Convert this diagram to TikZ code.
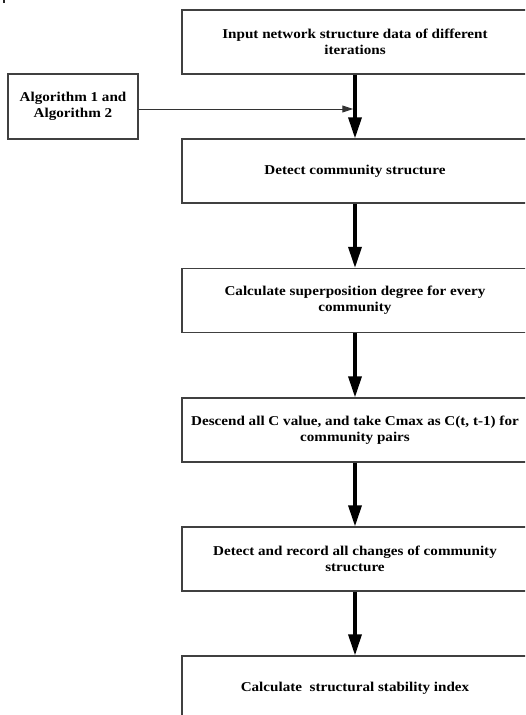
\documentclass[tikz,border=0pt]{standalone}
\usepackage{fontspec}
\setmainfont{Liberation Serif}[FakeStretch=1.12]
\usetikzlibrary{arrows.meta}
\tikzset{
  procbox/.style={draw=black!75, line width=1.2pt, minimum width=346pt, minimum height=64pt,
    inner sep=0pt, align=center, font=\fontsize{13.5}{16}\selectfont\bfseries},
  sidebox/.style={draw=black!75, line width=1.2pt, minimum width=130pt, minimum height=65pt,
    inner sep=0pt, align=center, font=\fontsize{13.5}{16}\selectfont\bfseries},
  flowarrow/.style={line width=3.3pt, -{Triangle[width=13pt,length=21pt]}},
  thinarrow/.style={draw=black!80, line width=1pt, -{Triangle[width=7pt,length=11pt]}}
}
\begin{document}
\begin{tikzpicture}[x=1pt,y=-1pt]
\useasboundingbox (0,0) rectangle (525,715);
\clip (0,0) rectangle (525,715);
\fill[black!85] (3,0) rectangle (5,3);
\node[procbox] (b1) at (355,42) {Input network structure data of different\\iterations};
\node[procbox] (b2) at (355,171) {Detect community structure};
\node[procbox] (b3) at (355,300.5) {Calculate superposition degree for every\\community};
\node[procbox] (b4) at (355,430) {Descend all C value, and take Cmax as C(t, t-1) for\\community pairs};
\node[procbox] (b5) at (355,559) {Detect and record all changes of community\\structure};
\node[procbox] (b6) at (355,688) {Calculate\ \ structural stability index};
\node[sidebox] (alg) at (73,106.5) {Algorithm 1 and\\Algorithm 2};
\draw[flowarrow] (b1.south) -- (b2.north);
\draw[flowarrow] (b2.south) -- (b3.north);
\draw[flowarrow] (b3.south) -- (b4.north);
\draw[flowarrow] (b4.south) -- (b5.north);
\draw[flowarrow] (b5.south) -- (b6.north);
\coordinate (join) at (353.3,109);
\draw[thinarrow] (alg.east |- join) -- (join);
\end{tikzpicture}
\end{document}
